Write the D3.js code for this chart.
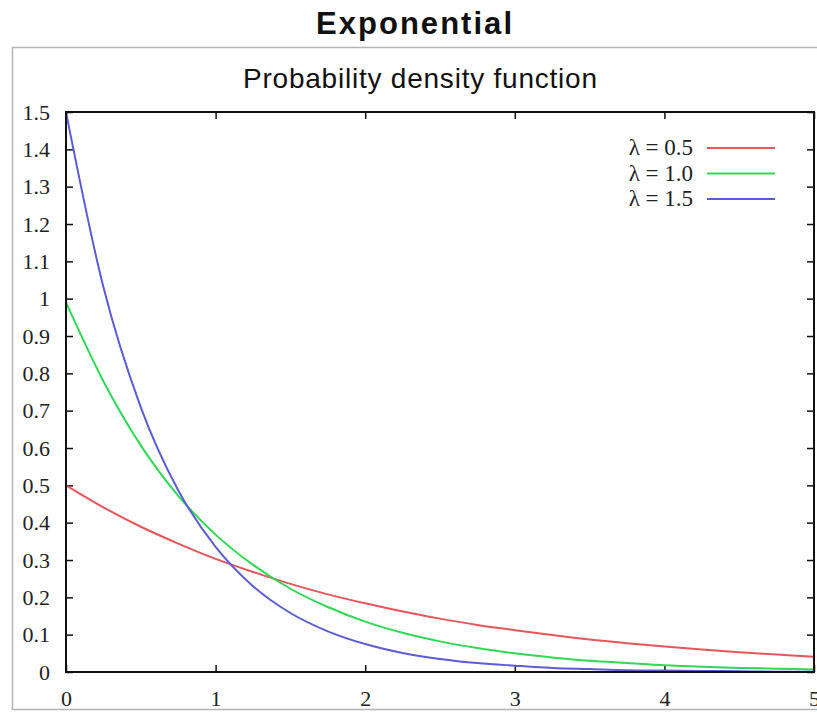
<!DOCTYPE html>
<html>
<head>
<meta charset="utf-8">
<script src="https://cdn.jsdelivr.net/npm/d3@7"></script>
<style>
  body { margin: 0; background: #fff; }
  svg { display: block; }
</style>
</head>
<body>
<div id="chart"></div>
<script>
// x positions the curves were read at
var xs = [0, 0.25, 0.5, 0.75, 1, 1.25, 1.5, 1.75, 2, 2.25, 2.5,
          2.75, 3, 3.25, 3.5, 3.75, 4, 4.25, 4.5, 4.75, 5];

// values
var lambda05 = [0.500, 0.441, 0.389, 0.344, 0.303, 0.268, 0.236, 0.208, 0.184, 0.162, 0.143,
                0.126, 0.112, 0.099, 0.087, 0.077, 0.068, 0.060, 0.053, 0.047, 0.041];
var lambda10 = [0.990, 0.779, 0.607, 0.472, 0.368, 0.287, 0.223, 0.174, 0.135, 0.105, 0.082,
                0.064, 0.050, 0.039, 0.030, 0.024, 0.018, 0.014, 0.011, 0.009, 0.007];
var lambda15 = [1.500, 1.031, 0.709, 0.487, 0.335, 0.230, 0.158, 0.109, 0.075, 0.051, 0.035,
                0.024, 0.017, 0.011, 0.008, 0.005, 0.004, 0.003, 0.002, 0.001, 0.001];

var seriesNames = ["λ = 0.5", "λ = 1.0", "λ = 1.5"];
var seriesColors = ["#e8555a", "#2fd855", "#5c5cd6"];

var yTicks = [0, 0.1, 0.2, 0.3, 0.4, 0.5, 0.6, 0.7, 0.8, 0.9, 1, 1.1, 1.2, 1.3, 1.4, 1.5];
var xTicks = [0, 1, 2, 3, 4, 5];

var svgWidth = 817;
var svgHeight = 715;

var margin = { top: 112, right: 3, bottom: 43, left: 66 };
var chartWidth = svgWidth - margin.left - margin.right;
var chartHeight = svgHeight - margin.top - margin.bottom;

var svg = d3.select("#chart")
  .append("svg")
  .attr("width", svgWidth)
  .attr("height", svgHeight);

// outer gray frame
svg.append("rect")
  .attr("x", 12.5)
  .attr("y", 47.5)
  .attr("width", 830)
  .attr("height", 662)
  .attr("fill", "#fff")
  .attr("stroke", "#b4b4b4")
  .attr("stroke-width", 1.5);

svg.append("text")
  .attr("x", 414)
  .attr("y", 34)
  .attr("text-anchor", "middle")
  .attr("textLength", 196)
  .attr("lengthAdjust", "spacing")
  .style("font-family", "Liberation Sans, Arial, sans-serif")
  .style("font-weight", "bold")
  .style("font-size", "31px")
  .attr("fill", "#111")
  .text("Exponential");

svg.append("text")
  .attr("x", 420)
  .attr("y", 88)
  .attr("text-anchor", "middle")
  .attr("textLength", 354)
  .attr("lengthAdjust", "spacing")
  .style("font-family", "Liberation Sans, Arial, sans-serif")
  .style("font-size", "28px")
  .attr("fill", "#111")
  .text("Probability density function");

var chartGroup = svg.append("g")
  .attr("transform", `translate(${margin.left}, ${margin.top})`);

var x = d3.scaleLinear().domain([0, 5]).range([0, chartWidth]);
var y = d3.scaleLinear().domain([0, 1.5]).range([chartHeight, 0]);

var tickFont = "Liberation Serif, Times New Roman, serif";

// left axis with inward ticks
var leftAxis = d3.axisLeft(y).tickValues(yTicks).tickSize(-7).tickPadding(16)
  .tickFormat(d3.format("~g"));
var gl = chartGroup.append("g").call(leftAxis);
gl.select(".domain").remove();
gl.selectAll("text").style("font-family", tickFont).style("font-size", "22px").attr("fill", "#222");
gl.selectAll("line").attr("stroke", "#111").attr("stroke-width", 1.5);

// right ticks
var rightAxis = d3.axisRight(y).tickValues(yTicks).tickSize(-7).tickFormat("");
var gr = chartGroup.append("g").attr("transform", `translate(${chartWidth},0)`).call(rightAxis);
gr.select(".domain").remove();
gr.selectAll("line").attr("stroke", "#111").attr("stroke-width", 1.5);

// bottom axis
var bottomAxis = d3.axisBottom(x).tickValues(xTicks).tickSize(-7).tickPadding(18)
  .tickFormat(d3.format("d"));
var gb = chartGroup.append("g").attr("transform", `translate(0,${chartHeight})`).call(bottomAxis);
gb.select(".domain").remove();
gb.selectAll("text").style("font-family", tickFont).style("font-size", "22px").attr("fill", "#222");
gb.selectAll("line").attr("stroke", "#111").attr("stroke-width", 1.5);

// top ticks
var topAxis = d3.axisTop(x).tickValues(xTicks).tickSize(-7).tickFormat("");
var gt = chartGroup.append("g").call(topAxis);
gt.select(".domain").remove();
gt.selectAll("line").attr("stroke", "#111").attr("stroke-width", 1.5);

// curves
var allSeries = [lambda05, lambda10, lambda15];
var line = d3.line()
  .x((d, i) => x(xs[i]))
  .y(d => y(d))
  .curve(d3.curveMonotoneX);

allSeries.forEach(function(vals, k) {
  chartGroup.append("path")
    .datum(vals)
    .attr("fill", "none")
    .attr("stroke", seriesColors[k])
    .attr("stroke-width", 2)
    .attr("d", line);
});

// plot border
chartGroup.append("rect")
  .attr("width", chartWidth)
  .attr("height", chartHeight)
  .attr("fill", "none")
  .attr("stroke", "#111")
  .attr("stroke-width", 2);

// legend
var legend = chartGroup.append("g").attr("transform", "translate(0, 36)");
seriesNames.forEach(function(name, k) {
  var row = legend.append("g").attr("transform", `translate(0, ${k * 25.5})`);
  row.append("text")
    .attr("x", 627)
    .attr("y", 7)
    .attr("text-anchor", "end")
    .style("font-family", tickFont)
    .style("font-size", "23px")
    .attr("fill", "#222")
    .text(name);
  row.append("line")
    .attr("x1", 641).attr("x2", 709)
    .attr("y1", 0).attr("y2", 0)
    .attr("stroke", seriesColors[k])
    .attr("stroke-width", 2);
});
</script>
</body>
</html>
